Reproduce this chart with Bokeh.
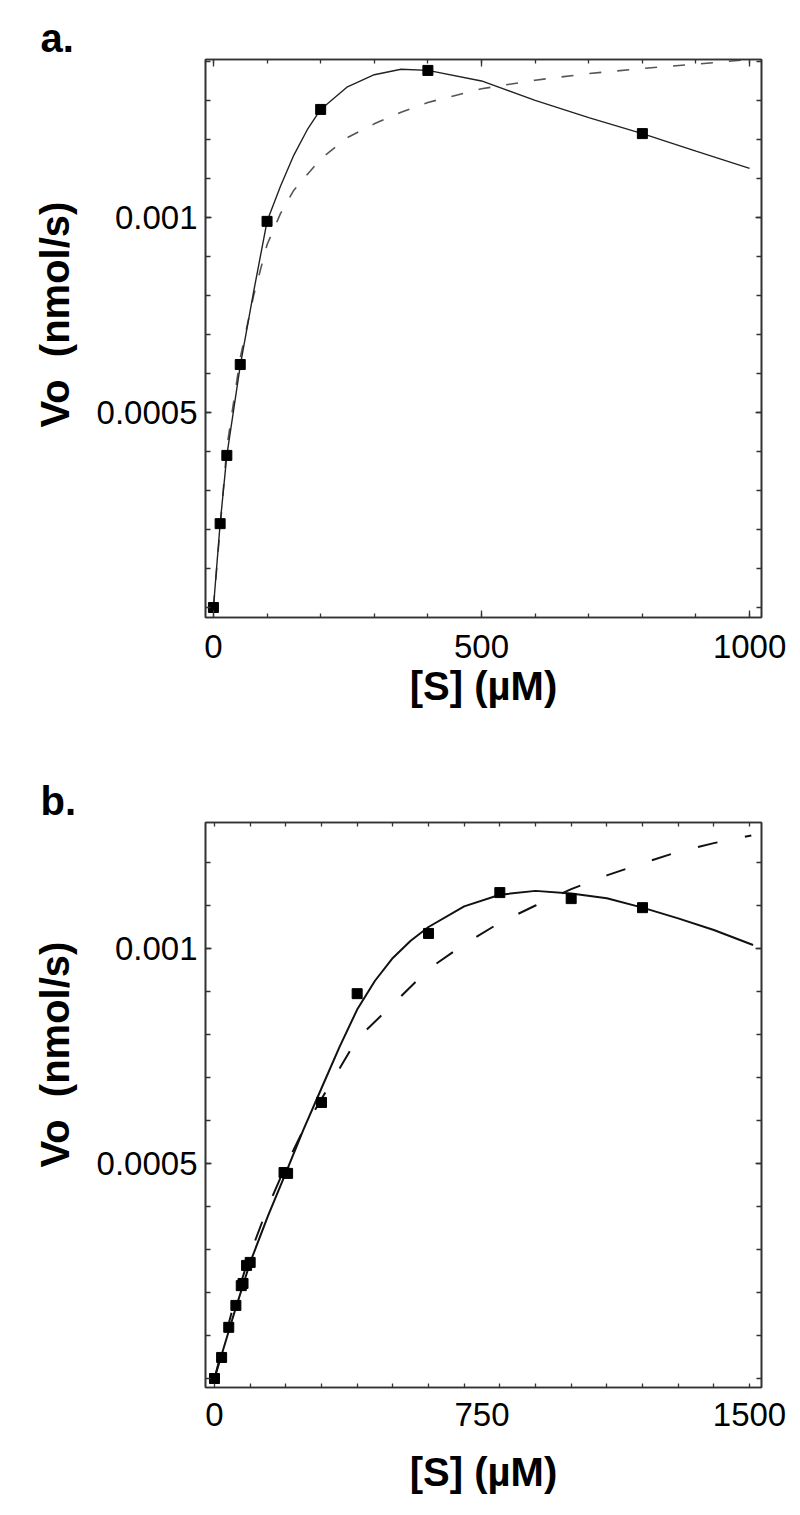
from bokeh.plotting import figure
from bokeh.models import Range1d, FixedTicker, LinearAxis, Title, PrintfTickFormatter
from bokeh.layouts import column
from bokeh.embed import file_html
from bokeh.resources import INLINE

# ---------------- data: panel a ----------------
a_pts_s = [0, 12.5, 25, 50, 100, 200, 400, 800]
a_pts_v = [0.0, 0.000215, 0.00039, 0.000623, 0.00099, 0.001277, 0.001377, 0.001215]

a_fit_s = [0, 12.5, 25, 50, 75, 100, 125, 150, 175, 200, 250, 300, 350, 400, 500, 600, 700, 800, 900, 1000]
a_fit_v = [0, 0.000215, 0.00039, 0.00062, 0.00081, 0.00099, 0.00108, 0.00116, 0.001225, 0.001277,
           0.001335, 0.001366, 0.00138, 0.001377, 0.00135, 0.0013, 0.001256, 0.001215, 0.00117, 0.001126]

a_mm_s = [0, 25, 50, 75, 100, 125, 150, 200, 250, 300, 350, 400, 500, 600, 700, 800, 900, 1000]
a_mm_v = [0, 0.00041, 0.00064, 0.0008, 0.00093, 0.00101, 0.00107, 0.00115, 0.001205, 0.00124,
          0.00127, 0.001295, 0.00133, 0.001352, 0.001369, 0.001382, 0.001393, 0.001405]

a_xticks = [0, 500, 1000]
a_xminor = [0, 100, 200, 300, 400, 500, 600, 700, 800, 900, 1000]
a_yticks = [0.0005, 0.001]
a_yminor = [0.0001 * i for i in range(15)]

# ---------------- data: panel b ----------------
b_pts_s = [0, 20, 40, 60, 75, 80, 90, 100, 195, 205, 300, 400, 600, 800, 1000, 1200]
b_pts_v = [0, 0.000049, 0.000119, 0.00017, 0.000216, 0.000221, 0.000263, 0.00027, 0.000479,
           0.000477, 0.000642, 0.000895, 0.001035, 0.00113, 0.001116, 0.001095]

b_fit_s = [0, 50, 100, 150, 200, 250, 300, 350, 400, 450, 500, 550, 600, 700, 800, 900, 1000,
           1100, 1200, 1300, 1400, 1510]
b_fit_v = [0, 0.000138, 0.00027, 0.000378, 0.000478, 0.00058, 0.000675, 0.00077, 0.000858,
           0.000925, 0.000978, 0.001018, 0.00105, 0.001098, 0.001125, 0.001134, 0.001128,
           0.001117, 0.001095, 0.00107, 0.001043, 0.001008]

b_mm_s = [0, 50, 100, 150, 200, 250, 300, 350, 400, 500, 600, 700, 800, 900, 1000, 1100, 1200,
          1300, 1400, 1505]
b_mm_v = [0, 0.00016, 0.00029, 0.0004, 0.000495, 0.00058, 0.00065, 0.00072, 0.00079, 0.00087,
          0.000952, 0.00101, 0.00106, 0.0011, 0.001138, 0.00117, 0.001198, 0.001225, 0.001245,
          0.001263]

b_xticks = [0, 750, 1500]
b_xminor = [100 * i for i in range(16)]
b_yticks = [0.0005, 0.001]
b_yminor = [0.0001 * i for i in range(13)]

FONT = "Liberation Sans"
AXC = "#333333"
YTITLE = "Vo\u00a0 (nmol/s)"


def style_axis(ax, ticks, minor, show_labels, major_in, minor_in, standoff):
    ax.ticker = FixedTicker(ticks=ticks, minor_ticks=minor)
    ax.formatter = PrintfTickFormatter(format="%g")
    ax.axis_line_color = AXC
    ax.axis_line_width = 1.6
    ax.major_tick_line_color = AXC
    ax.minor_tick_line_color = AXC
    ax.major_tick_line_width = 1.3
    ax.minor_tick_line_width = 1.3
    ax.major_tick_in = major_in
    ax.major_tick_out = 0
    ax.minor_tick_in = minor_in
    ax.minor_tick_out = 0
    if show_labels:
        ax.major_label_text_font = FONT
        ax.major_label_text_font_size = "33px"
        ax.major_label_text_color = "black"
        ax.major_label_standoff = standoff
    else:
        ax.major_label_text_font_size = "0px"
        ax.major_label_text_color = None
        ax.major_label_standoff = 0


def make_panel(height, xr, yr, borders, xticks, xminor, yticks, yminor, xmajor_in,
               xlab_standoff, axis_label_standoff, letter, ytitle_offset):
    left, right, top, bottom = borders
    p = figure(width=792, height=height, x_range=Range1d(*xr), y_range=Range1d(*yr),
               output_backend="svg", toolbar_location=None,
               min_border_left=left, min_border_right=right,
               min_border_top=top, min_border_bottom=bottom)
    p.xgrid.visible = False
    p.ygrid.visible = False
    p.outline_line_color = AXC
    p.outline_line_width = 1.6
    p.background_fill_color = "white"
    p.border_fill_color = "white"

    # panel letter as the figure title, pushed to the left edge
    p.title.text = letter
    p.title.align = "left"
    p.title.offset = -165
    p.title.standoff = 0
    p.title.text_font = FONT
    p.title.text_font_style = "bold"
    p.title.text_font_size = "40px"
    p.title.text_color = "black"

    style_axis(p.xaxis[0], xticks, xminor, True, xmajor_in, 4, xlab_standoff)
    style_axis(p.yaxis[0], yticks, yminor, True, 6, 5, 8)
    p.xaxis[0].axis_label = "[S] (µM)"
    p.xaxis[0].axis_label_text_font = FONT
    p.xaxis[0].axis_label_text_font_style = "bold"
    p.xaxis[0].axis_label_text_font_size = "40px"
    p.xaxis[0].axis_label_text_color = "black"
    p.xaxis[0].axis_label_standoff = axis_label_standoff

    top_ax = LinearAxis()
    right_ax = LinearAxis()
    p.add_layout(top_ax, "above")
    p.add_layout(right_ax, "right")
    style_axis(top_ax, xticks, xminor, False, xmajor_in, 4, 0)
    style_axis(right_ax, yticks, yminor, False, 6, 5, 0)

    # y-axis title: starts ytitle_offset px above the frame bottom, as in the reference
    p.add_layout(Title(text=YTITLE, align="left", offset=ytitle_offset, standoff=34,
                       text_font=FONT, text_font_style="bold", text_font_size="40px",
                       text_color="black"), "left")
    return p


# ---------------- panel a ----------------
pa = make_panel(760, (-14.8, 1022.2), (-0.0000256, 0.001405), (205, 27, 59, 143),
                a_xticks, a_xminor, a_yticks, a_yminor, 7, 17, 3, "a.", 190)
pa.line(a_mm_s, a_mm_v, line_color="#555555", line_width=1.6, line_dash="12 16")
pa.line(a_fit_s, a_fit_v, line_color="#222222", line_width=1.4)
pa.scatter(a_pts_s, a_pts_v, marker="square", size=10, color="black")

# ---------------- panel b ----------------
pb = make_panel(752, (-25.2, 1533.6), (-0.0000209, 0.001293), (205, 31, 62, 125),
                b_xticks, b_xminor, b_yticks, b_yminor, 0, 15, 21, "b.", 220)
pb.line(b_mm_s, b_mm_v, line_color="#111111", line_width=2, line_dash="20 28")
pb.line(b_fit_s, b_fit_v, line_color="#111111", line_width=2)
pb.scatter(b_pts_s, b_pts_v, marker="square", size=10, color="black")

layout = column(pa, pb, spacing=0)
open("out.html", "w").write(file_html(layout, INLINE))
